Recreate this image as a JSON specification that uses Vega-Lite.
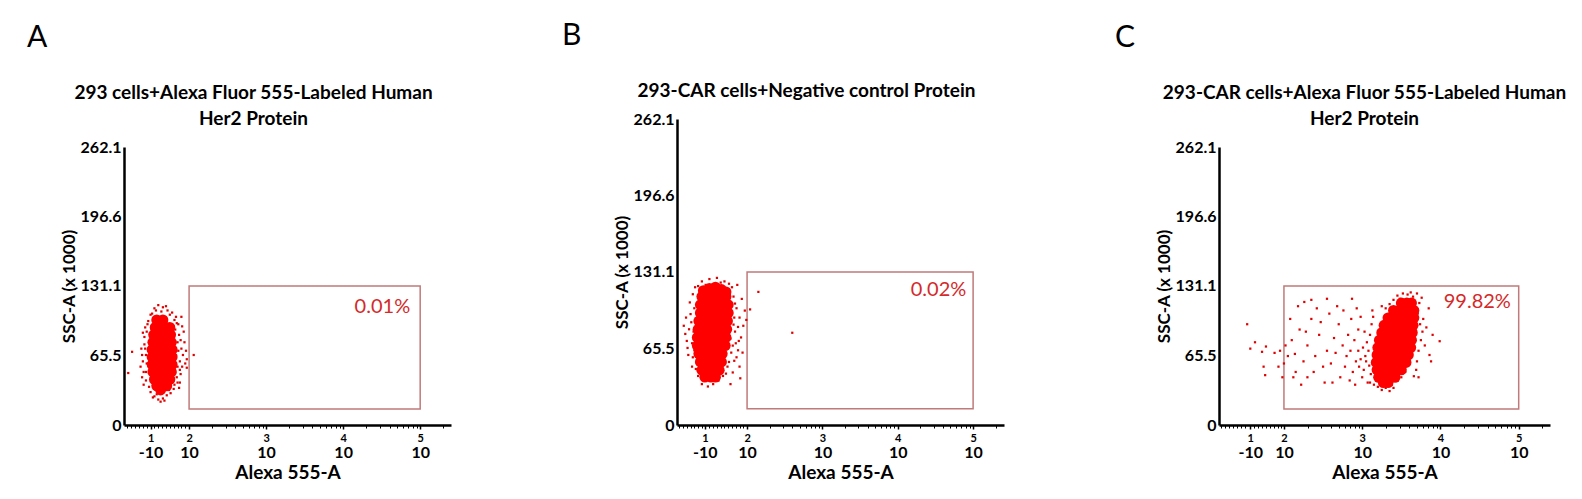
{
 "$schema": "https://vega.github.io/schema/vega-lite/v6.json",
 "background": "white",
 "padding": {"left": 27, "top": 21, "right": 0, "bottom": 0},
 "spacing": 111,
 "config": {
  "view": {"stroke": null},
  "font": "Lato",
  "axis": {"grid": false, "labelFont": "Lato", "titleFont": "Lato"},
  "axisY": {"ticks": false, "labelPadding": 3, "labelFontSize": 16, "labelFontWeight": "bold", "labelColor": "black", "domainColor": "black", "domainWidth": 2.5, "titleFontSize": 17, "titleFontWeight": "bold", "titleColor": "black", "titlePadding": 2}
 },
 "datasets": {
  "gate": [{"p":"A","x1":2,"x2":5,"y1":15,"y2":131.1},{"p":"B","x1":2,"x2":5,"y1":14,"y2":131},{"p":"C","x1":2,"x2":5,"y1":15,"y2":131.1}],
  "pct": [{"p":"A","x":4.87,"y":111,"label":"0.01%"},{"p":"B","x":4.91,"y":116,"label":"0.02%"},{"p":"C","x":4.90,"y":116,"label":"99.82%"}],
  "A_core": [
   {"x":1.58,"y":99},{"x":1.66,"y":99},
   {"x":1.56,"y":92},{"x":1.63,"y":92},{"x":1.70,"y":92},{"x":1.75,"y":92},
   {"x":1.54,"y":85},{"x":1.61,"y":85},{"x":1.68,"y":85},{"x":1.76,"y":85},
   {"x":1.53,"y":78},{"x":1.60,"y":78},{"x":1.67,"y":78},{"x":1.74,"y":78},{"x":1.77,"y":78},
   {"x":1.52,"y":71},{"x":1.59,"y":71},{"x":1.66,"y":71},{"x":1.73,"y":71},{"x":1.78,"y":71},
   {"x":1.52,"y":64},{"x":1.59,"y":64},{"x":1.66,"y":64},{"x":1.73,"y":64},{"x":1.78,"y":64},
   {"x":1.52,"y":57},{"x":1.59,"y":57},{"x":1.66,"y":57},{"x":1.73,"y":57},{"x":1.78,"y":57},
   {"x":1.53,"y":50},{"x":1.60,"y":50},{"x":1.67,"y":50},{"x":1.74,"y":50},{"x":1.77,"y":50},
   {"x":1.55,"y":43},{"x":1.62,"y":43},{"x":1.69,"y":43},{"x":1.75,"y":43},
   {"x":1.58,"y":37},{"x":1.65,"y":37},{"x":1.71,"y":37},
   {"x":1.63,"y":33}
  ],
  "A_dot": [
   {"x":1.40,"y":60},{"x":1.38,"y":72},{"x":1.41,"y":50},{"x":1.42,"y":83},{"x":1.39,"y":45},{"x":1.43,"y":92},{"x":1.41,"y":38},{"x":1.44,"y":66},{"x":1.37,"y":55},{"x":1.42,"y":76},
   {"x":1.88,"y":60},{"x":1.90,"y":72},{"x":1.87,"y":85},{"x":1.92,"y":66},{"x":1.89,"y":48},{"x":1.94,"y":78},{"x":1.86,"y":95},{"x":1.91,"y":55},{"x":1.96,"y":70},{"x":1.88,"y":40},{"x":1.93,"y":88},{"x":1.97,"y":62},{"x":1.90,"y":102},{"x":1.87,"y":35},
   {"x":1.55,"y":110},{"x":1.60,"y":113},{"x":1.66,"y":111},{"x":1.72,"y":108},{"x":1.78,"y":106},{"x":1.50,"y":104},{"x":1.64,"y":107},{"x":1.83,"y":102},{"x":1.70,"y":112},{"x":1.47,"y":98},
   {"x":1.55,"y":27},{"x":1.60,"y":24},{"x":1.66,"y":25},{"x":1.71,"y":28},{"x":1.76,"y":30},{"x":1.50,"y":31},{"x":1.63,"y":22},{"x":1.80,"y":34},{"x":1.48,"y":36},{"x":1.68,"y":23},
   {"x":1.82,"y":90},{"x":1.84,"y":45},{"x":1.85,"y":78},{"x":1.83,"y":66},{"x":1.81,"y":38},
   {"x":1.45,"y":88},{"x":1.44,"y":42},{"x":1.46,"y":95},{"x":1.85,"y":55},{"x":1.86,"y":70},{"x":1.84,"y":96},{"x":1.89,"y":80},{"x":1.52,"y":105},{"x":1.75,"y":104},{"x":1.58,"y":29},{"x":1.74,"y":33},{"x":1.45,"y":58},{"x":1.43,"y":72},
   {"x":1.39,"y":66},{"x":1.40,"y":87},{"x":1.91,"y":93},{"x":1.95,"y":58},{"x":1.88,"y":52},{"x":1.57,"y":108},{"x":1.81,"y":99},{"x":1.53,"y":26},{"x":1.85,"y":40},{"x":1.44,"y":50},
   {"x":1.21,"y":49},{"x":1.26,"y":69},{"x":2.06,"y":66},{"x":1.97,"y":54}
  ],
  "B_core": [
   {"x":1.42,"y":115},{"x":1.50,"y":117},{"x":1.58,"y":118},{"x":1.66,"y":116},{"x":1.72,"y":114},
   {"x":1.40,"y":110},{"x":1.48,"y":110},{"x":1.56,"y":110},{"x":1.64,"y":110},{"x":1.72,"y":110},
   {"x":1.38,"y":103},{"x":1.46,"y":103},{"x":1.54,"y":103},{"x":1.62,"y":103},{"x":1.70,"y":103},{"x":1.75,"y":103},
   {"x":1.38,"y":96},{"x":1.46,"y":96},{"x":1.54,"y":96},{"x":1.62,"y":96},{"x":1.70,"y":96},{"x":1.75,"y":96},
   {"x":1.36,"y":89},{"x":1.44,"y":89},{"x":1.52,"y":89},{"x":1.60,"y":89},{"x":1.68,"y":89},{"x":1.74,"y":89},
   {"x":1.35,"y":82},{"x":1.43,"y":82},{"x":1.51,"y":82},{"x":1.59,"y":82},{"x":1.67,"y":82},{"x":1.73,"y":82},
   {"x":1.34,"y":75},{"x":1.42,"y":75},{"x":1.50,"y":75},{"x":1.58,"y":75},{"x":1.66,"y":75},{"x":1.72,"y":75},
   {"x":1.34,"y":68},{"x":1.42,"y":68},{"x":1.50,"y":68},{"x":1.58,"y":68},{"x":1.66,"y":68},{"x":1.71,"y":68},
   {"x":1.36,"y":61},{"x":1.44,"y":61},{"x":1.52,"y":61},{"x":1.60,"y":61},{"x":1.67,"y":61},
   {"x":1.38,"y":54},{"x":1.46,"y":54},{"x":1.54,"y":54},{"x":1.62,"y":54},{"x":1.66,"y":54},
   {"x":1.40,"y":47},{"x":1.48,"y":47},{"x":1.56,"y":47},{"x":1.63,"y":47},
   {"x":1.44,"y":41},{"x":1.52,"y":41},{"x":1.58,"y":41}
  ],
  "B_dot": [
   {"x":1.20,"y":72},{"x":1.16,"y":85},{"x":1.22,"y":60},{"x":1.25,"y":95},{"x":1.18,"y":78},{"x":1.24,"y":105},{"x":1.27,"y":50},{"x":1.21,"y":66},{"x":1.28,"y":112},{"x":1.26,"y":88},
   {"x":1.29,"y":80},{"x":1.27,"y":70},{"x":1.30,"y":100},{"x":1.28,"y":58},{"x":1.31,"y":118},
   {"x":1.82,"y":110},{"x":1.86,"y":100},{"x":1.90,"y":92},{"x":1.84,"y":80},{"x":1.92,"y":75},{"x":1.88,"y":64},{"x":1.95,"y":85},{"x":1.83,"y":55},{"x":1.90,"y":50},{"x":1.97,"y":98},{"x":1.80,"y":118},{"x":1.87,"y":120},{"x":1.93,"y":108},{"x":1.85,"y":70},{"x":1.99,"y":90},{"x":1.81,"y":45},{"x":1.91,"y":40},{"x":1.78,"y":35},
   {"x":1.80,"y":96},{"x":1.82,"y":86},{"x":1.79,"y":62},{"x":1.84,"y":104},{"x":1.78,"y":74},{"x":1.76,"y":54},{"x":1.81,"y":68},{"x":1.88,"y":84},{"x":1.72,"y":44},
   {"x":1.86,"y":58},{"x":1.89,"y":72},{"x":1.94,"y":62},{"x":1.83,"y":92},{"x":1.23,"y":82},{"x":1.19,"y":92},{"x":1.30,"y":64},{"x":1.77,"y":112},
   {"x":1.40,"y":123},{"x":1.50,"y":125},{"x":1.60,"y":126},{"x":1.70,"y":123},{"x":1.35,"y":119},{"x":1.76,"y":121},{"x":1.45,"y":120},{"x":1.65,"y":122},
   {"x":1.40,"y":35},{"x":1.48,"y":33},{"x":1.55,"y":35},{"x":1.62,"y":38},{"x":1.68,"y":42},{"x":1.35,"y":42},{"x":1.32,"y":48},{"x":1.74,"y":50},
   {"x":2.15,"y":114},{"x":2.60,"y":79},{"x":2.04,"y":99}
  ],
  "C_core": [
   {"x":3.50,"y":115},{"x":3.57,"y":115},{"x":3.63,"y":115},
   {"x":3.40,"y":108},{"x":3.47,"y":108},{"x":3.54,"y":108},{"x":3.61,"y":108},{"x":3.66,"y":108},
   {"x":3.33,"y":101},{"x":3.40,"y":101},{"x":3.47,"y":101},{"x":3.54,"y":101},{"x":3.61,"y":101},{"x":3.66,"y":101},
   {"x":3.28,"y":94},{"x":3.35,"y":94},{"x":3.42,"y":94},{"x":3.49,"y":94},{"x":3.56,"y":94},{"x":3.63,"y":94},{"x":3.65,"y":94},
   {"x":3.25,"y":87},{"x":3.32,"y":87},{"x":3.39,"y":87},{"x":3.46,"y":87},{"x":3.53,"y":87},{"x":3.60,"y":87},{"x":3.64,"y":87},
   {"x":3.22,"y":80},{"x":3.29,"y":80},{"x":3.36,"y":80},{"x":3.43,"y":80},{"x":3.50,"y":80},{"x":3.57,"y":80},{"x":3.63,"y":80},
   {"x":3.20,"y":73},{"x":3.27,"y":73},{"x":3.34,"y":73},{"x":3.41,"y":73},{"x":3.48,"y":73},{"x":3.55,"y":73},{"x":3.62,"y":73},
   {"x":3.19,"y":66},{"x":3.26,"y":66},{"x":3.33,"y":66},{"x":3.40,"y":66},{"x":3.47,"y":66},{"x":3.54,"y":66},{"x":3.59,"y":66},
   {"x":3.18,"y":59},{"x":3.25,"y":59},{"x":3.32,"y":59},{"x":3.39,"y":59},{"x":3.46,"y":59},{"x":3.53,"y":59},{"x":3.56,"y":59},
   {"x":3.19,"y":52},{"x":3.26,"y":52},{"x":3.33,"y":52},{"x":3.40,"y":52},{"x":3.47,"y":52},{"x":3.50,"y":52},
   {"x":3.21,"y":45},{"x":3.28,"y":45},{"x":3.35,"y":45},{"x":3.42,"y":45},
   {"x":3.27,"y":40},{"x":3.33,"y":40}
  ],
  "C_dot": [
   {"x":3.05,"y":60},{"x":3.08,"y":70},{"x":3.02,"y":52},{"x":3.10,"y":85},{"x":3.12,"y":95},{"x":3.00,"y":45},{"x":3.06,"y":78},{"x":3.11,"y":48},{"x":3.04,"y":65},{"x":3.14,"y":102},{"x":3.09,"y":56},{"x":3.01,"y":73},{"x":2.98,"y":62},{"x":3.07,"y":40},{"x":3.13,"y":108},{"x":2.96,"y":55},{"x":3.03,"y":88},{"x":2.95,"y":70},
   {"x":3.70,"y":60},{"x":3.72,"y":70},{"x":3.75,"y":80},{"x":3.74,"y":95},{"x":3.71,"y":105},{"x":3.77,"y":88},{"x":3.69,"y":52},{"x":3.80,"y":75},{"x":3.73,"y":115},{"x":3.78,"y":100},{"x":3.85,"y":110},{"x":3.86,"y":66},{"x":3.72,"y":45},{"x":3.82,"y":92},{"x":3.88,"y":60},{"x":3.76,"y":120},{"x":3.66,"y":46},{"x":3.90,"y":85},
   {"x":3.40,"y":118},{"x":3.45,"y":122},{"x":3.52,"y":124},{"x":3.58,"y":123},{"x":3.65,"y":121},{"x":3.35,"y":114},{"x":3.30,"y":110},{"x":3.70,"y":124},{"x":3.62,"y":125},{"x":3.48,"y":119},{"x":3.25,"y":112},
   {"x":3.20,"y":36},{"x":3.25,"y":33},{"x":3.30,"y":35},{"x":3.38,"y":38},{"x":3.45,"y":42},{"x":3.15,"y":38},{"x":3.10,"y":40},{"x":3.35,"y":32},{"x":3.50,"y":45},{"x":3.55,"y":50},{"x":3.40,"y":35},
   {"x":2.95,"y":90},{"x":2.90,"y":80},{"x":2.85,"y":70},{"x":2.92,"y":60},{"x":2.88,"y":50},{"x":2.80,"y":65},{"x":2.75,"y":75},{"x":2.82,"y":85},{"x":2.78,"y":55},{"x":2.70,"y":95},{"x":2.86,"y":100},{"x":2.72,"y":45},{"x":2.66,"y":68},{"x":2.93,"y":110},{"x":2.60,"y":58},{"x":2.64,"y":82},{"x":2.84,"y":42},{"x":2.91,"y":38},{"x":2.98,"y":102},{"x":2.76,"y":108},{"x":2.62,"y":40},{"x":2.68,"y":112},
   {"x":2.55,"y":70},{"x":2.45,"y":85},{"x":2.50,"y":55},{"x":2.40,"y":65},{"x":2.35,"y":100},{"x":2.30,"y":75},{"x":2.25,"y":60},{"x":2.20,"y":90},{"x":2.15,"y":50},{"x":2.10,"y":80},{"x":2.05,"y":65},{"x":2.00,"y":58},{"x":1.95,"y":70},{"x":2.30,"y":45},{"x":2.42,"y":110},{"x":2.18,"y":112},{"x":2.08,"y":100},{"x":2.52,"y":40},{"x":2.38,"y":50},{"x":2.12,"y":45},{"x":2.28,"y":88},{"x":2.02,"y":75},{"x":1.98,"y":45},{"x":2.47,"y":97},{"x":2.58,"y":105},{"x":2.35,"y":118},{"x":2.22,"y":38},{"x":2.14,"y":67},{"x":1.93,"y":55},
   {"x":2.26,"y":116},{"x":2.55,"y":119},{"x":2.87,"y":119},{"x":3.99,"y":79},
   {"x":1.53,"y":95},{"x":1.63,"y":78},{"x":1.57,"y":72},{"x":1.74,"y":55},{"x":1.76,"y":47},{"x":1.77,"y":74},{"x":1.72,"y":69},{"x":1.88,"y":68}
  ]
 },
 "hconcat": [
  {
   "width": 327, "height": 306,
   "title": {"text": "A", "anchor": "start", "frame": "group", "dx": -97, "offset": 30, "fontSize": 30, "fontWeight": "normal", "font": "Lato", "color": "black"},
   "resolve": {"axis": {"x": "independent"}},
   "layer": [
    {"data": {"name": "gate"}, "transform": [{"filter": "datum.p === 'A'"}],
     "mark": {"type": "rect", "filled": false, "stroke": "#c07a7a", "strokeWidth": 1.5},
     "encoding": {
      "x": {"field": "x1", "type": "quantitative", "scale": {"domain": [1.155, 5.4], "nice": false, "zero": false},
            "axis": {"orient": "bottom", "values": [1.5, 2, 3, 4, 5], "labelExpr": "datum.value < 1.9 ? '-10' : '10'", "labelFontSize": 16, "labelFontWeight": "bold", "labelColor": "black", "labelDx": -3, "labelPadding": 15, "tickSize": 4, "tickColor": "black", "tickWidth": 1.5, "domainColor": "black", "domainWidth": 2.5, "labelFlush": false, "labelOverlap": false, "title": "Alexa 555-A", "titleFontSize": 19, "titleFontWeight": "bold", "titleColor": "black", "titlePadding": 3}},
      "x2": {"field": "x2"},
      "y": {"field": "y1", "type": "quantitative", "scale": {"domain": [0, 262.1], "nice": false, "zero": false, "range": [306, 28]}, "axis": {"values": [0, 65.5, 131.1, 196.6, 262.1], "format": ".1~f", "title": "SSC-A (x 1000)"}},
      "y2": {"field": "y2"}
     }},
    {"data": {"name": "A_dot"},
     "mark": {"type": "square", "size": 5, "color": "#e00000", "opacity": 1},
     "encoding": {
      "x": {"field": "x", "type": "quantitative", "scale": {"domain": [1.155, 5.4], "nice": false, "zero": false},
            "axis": {"orient": "bottom", "values": [1.2,1.25,1.3,1.35,1.4,1.45,1.55,1.6,1.65,1.7,1.75,1.8,1.85,1.9,1.95,2.301,2.477,2.602,2.699,2.778,2.845,2.903,2.954,3.301,3.477,3.602,3.699,3.778,3.845,3.903,3.954,4.301,4.477,4.602,4.699,4.778,4.845,4.903,4.954,5.301], "labels": false, "domain": false, "tickSize": 3, "tickColor": "black", "tickWidth": 1, "title": null}},
      "y": {"field": "y", "type": "quantitative", "scale": {"domain": [0, 262.1], "nice": false, "zero": false, "range": [306, 28]}, "axis": {"values": [0, 65.5, 131.1, 196.6, 262.1], "format": ".1~f", "title": "SSC-A (x 1000)"}}
     }},
    {"data": {"name": "A_core"},
     "mark": {"type": "circle", "size": 120, "color": "#ff0000", "opacity": 1},
     "encoding": {
      "x": {"field": "x", "type": "quantitative", "scale": {"domain": [1.155, 5.4], "nice": false, "zero": false},
            "axis": {"orient": "bottom", "values": [1.5, 2, 3, 4, 5], "labelExpr": "datum.value < 1.9 ? '1' : format(datum.value, '.0f')", "labelFontSize": 11, "labelFontWeight": "bold", "labelColor": "black", "labelDx": 10, "labelPadding": 7, "ticks": false, "domain": false, "labelFlush": false, "labelOverlap": false, "title": null}},
      "y": {"field": "y", "type": "quantitative", "scale": {"domain": [0, 262.1], "nice": false, "zero": false, "range": [306, 28]}, "axis": {"values": [0, 65.5, 131.1, 196.6, 262.1], "format": ".1~f", "title": "SSC-A (x 1000)"}}
     }},
    {"data": {"name": "pct"}, "transform": [{"filter": "datum.p === 'A'"}],
     "mark": {"type": "text", "align": "right", "baseline": "middle", "font": "Lato", "fontSize": 20, "color": "#d42a2a"},
     "encoding": {
      "x": {"field": "x", "type": "quantitative", "scale": {"domain": [1.155, 5.4], "nice": false, "zero": false},
            "axis": {"orient": "top", "offset": -28, "labels": false, "ticks": false, "domain": false, "title": ["293 cells+Alexa Fluor 555-Labeled Human", "Her2 Protein"], "titleFontSize": 19, "titleFontWeight": "bold", "titleColor": "black", "titlePadding": 19, "titleBaseline": "bottom", "titleLineHeight": 26, "titleX": 129}},
      "y": {"field": "y", "type": "quantitative", "scale": {"domain": [0, 262.1], "nice": false, "zero": false, "range": [306, 28]}, "axis": {"values": [0, 65.5, 131.1, 196.6, 262.1], "format": ".1~f", "title": "SSC-A (x 1000)"}},
      "text": {"field": "label"}
     }}
   ]
  },
  {
   "width": 327, "height": 306,
   "title": {"text": "B", "anchor": "start", "frame": "group", "dx": -115, "offset": 30, "fontSize": 30, "fontWeight": "normal", "font": "Lato", "color": "black"},
   "resolve": {"axis": {"x": "independent"}},
   "layer": [
    {"data": {"name": "gate"}, "transform": [{"filter": "datum.p === 'B'"}],
     "mark": {"type": "rect", "filled": false, "stroke": "#c07a7a", "strokeWidth": 1.5},
     "encoding": {
      "x": {"field": "x1", "type": "quantitative", "scale": {"domain": [1.07, 5.41], "nice": false, "zero": false},
            "axis": {"orient": "bottom", "values": [1.44, 2, 3, 4, 5], "labelExpr": "datum.value < 1.9 ? '-10' : '10'", "labelFontSize": 16, "labelFontWeight": "bold", "labelColor": "black", "labelDx": -3, "labelPadding": 15, "tickSize": 4, "tickColor": "black", "tickWidth": 1.5, "domainColor": "black", "domainWidth": 2.5, "labelFlush": false, "labelOverlap": false, "title": "Alexa 555-A", "titleFontSize": 19, "titleFontWeight": "bold", "titleColor": "black", "titlePadding": 3}},
      "x2": {"field": "x2"},
      "y": {"field": "y1", "type": "quantitative", "scale": {"domain": [0, 262.1], "nice": false, "zero": false}, "axis": {"values": [0, 65.5, 131.1, 196.6, 262.1], "format": ".1~f", "title": "SSC-A (x 1000)"}},
      "y2": {"field": "y2"}
     }},
    {"data": {"name": "B_dot"},
     "mark": {"type": "square", "size": 5, "color": "#e00000", "opacity": 1},
     "encoding": {
      "x": {"field": "x", "type": "quantitative", "scale": {"domain": [1.07, 5.41], "nice": false, "zero": false},
            "axis": {"orient": "bottom", "values": [1.1,1.15,1.2,1.25,1.3,1.35,1.4,1.5,1.55,1.6,1.65,1.7,1.75,1.8,1.85,1.9,1.95,2.301,2.477,2.602,2.699,2.778,2.845,2.903,2.954,3.301,3.477,3.602,3.699,3.778,3.845,3.903,3.954,4.301,4.477,4.602,4.699,4.778,4.845,4.903,4.954,5.301], "labels": false, "domain": false, "tickSize": 3, "tickColor": "black", "tickWidth": 1, "title": null}},
      "y": {"field": "y", "type": "quantitative", "scale": {"domain": [0, 262.1], "nice": false, "zero": false}, "axis": {"values": [0, 65.5, 131.1, 196.6, 262.1], "format": ".1~f", "title": "SSC-A (x 1000)"}}
     }},
    {"data": {"name": "B_core"},
     "mark": {"type": "circle", "size": 120, "color": "#ff0000", "opacity": 1},
     "encoding": {
      "x": {"field": "x", "type": "quantitative", "scale": {"domain": [1.07, 5.41], "nice": false, "zero": false},
            "axis": {"orient": "bottom", "values": [1.44, 2, 3, 4, 5], "labelExpr": "datum.value < 1.9 ? '1' : format(datum.value, '.0f')", "labelFontSize": 11, "labelFontWeight": "bold", "labelColor": "black", "labelDx": 10, "labelPadding": 7, "ticks": false, "domain": false, "labelFlush": false, "labelOverlap": false, "title": null}},
      "y": {"field": "y", "type": "quantitative", "scale": {"domain": [0, 262.1], "nice": false, "zero": false}, "axis": {"values": [0, 65.5, 131.1, 196.6, 262.1], "format": ".1~f", "title": "SSC-A (x 1000)"}}
     }},
    {"data": {"name": "pct"}, "transform": [{"filter": "datum.p === 'B'"}],
     "mark": {"type": "text", "align": "right", "baseline": "middle", "font": "Lato", "fontSize": 20, "color": "#d42a2a"},
     "encoding": {
      "x": {"field": "x", "type": "quantitative", "scale": {"domain": [1.07, 5.41], "nice": false, "zero": false},
            "axis": {"orient": "top", "labels": false, "ticks": false, "domain": false, "title": "293-CAR cells+Negative control Protein", "titleFontSize": 19, "titleFontWeight": "bold", "titleColor": "black", "titlePadding": 19, "titleBaseline": "bottom", "titleLineHeight": 26, "titleX": 129}},
      "y": {"field": "y", "type": "quantitative", "scale": {"domain": [0, 262.1], "nice": false, "zero": false}, "axis": {"values": [0, 65.5, 131.1, 196.6, 262.1], "format": ".1~f", "title": "SSC-A (x 1000)"}},
      "text": {"field": "label"}
     }}
   ]
  },
  {
   "width": 331, "height": 306,
   "title": {"text": "C", "anchor": "start", "frame": "group", "dx": -104, "offset": 30, "fontSize": 30, "fontWeight": "normal", "font": "Lato", "color": "black"},
   "resolve": {"axis": {"x": "independent"}},
   "layer": [
    {"data": {"name": "gate"}, "transform": [{"filter": "datum.p === 'C'"}],
     "mark": {"type": "rect", "filled": false, "stroke": "#c07a7a", "strokeWidth": 1.5},
     "encoding": {
      "x": {"field": "x1", "type": "quantitative", "scale": {"domain": [1.17, 5.4], "nice": false, "zero": false},
            "axis": {"orient": "bottom", "values": [1.57, 2, 3, 4, 5], "labelExpr": "datum.value < 1.9 ? '-10' : '10'", "labelFontSize": 16, "labelFontWeight": "bold", "labelColor": "black", "labelDx": -3, "labelPadding": 15, "tickSize": 4, "tickColor": "black", "tickWidth": 1.5, "domainColor": "black", "domainWidth": 2.5, "labelFlush": false, "labelOverlap": false, "title": "Alexa 555-A", "titleFontSize": 19, "titleFontWeight": "bold", "titleColor": "black", "titlePadding": 3}},
      "x2": {"field": "x2"},
      "y": {"field": "y1", "type": "quantitative", "scale": {"domain": [0, 262.1], "nice": false, "zero": false, "range": [306, 28]}, "axis": {"values": [0, 65.5, 131.1, 196.6, 262.1], "format": ".1~f", "title": "SSC-A (x 1000)"}},
      "y2": {"field": "y2"}
     }},
    {"data": {"name": "C_dot"},
     "mark": {"type": "square", "size": 5, "color": "#e00000", "opacity": 1},
     "encoding": {
      "x": {"field": "x", "type": "quantitative", "scale": {"domain": [1.17, 5.4], "nice": false, "zero": false},
            "axis": {"orient": "bottom", "values": [1.2,1.25,1.3,1.35,1.4,1.45,1.5,1.62,1.67,1.72,1.77,1.82,1.87,1.92,1.96,2.301,2.477,2.602,2.699,2.778,2.845,2.903,2.954,3.301,3.477,3.602,3.699,3.778,3.845,3.903,3.954,4.301,4.477,4.602,4.699,4.778,4.845,4.903,4.954,5.301], "labels": false, "domain": false, "tickSize": 3, "tickColor": "black", "tickWidth": 1, "title": null}},
      "y": {"field": "y", "type": "quantitative", "scale": {"domain": [0, 262.1], "nice": false, "zero": false, "range": [306, 28]}, "axis": {"values": [0, 65.5, 131.1, 196.6, 262.1], "format": ".1~f", "title": "SSC-A (x 1000)"}}
     }},
    {"data": {"name": "C_core"},
     "mark": {"type": "circle", "size": 120, "color": "#ff0000", "opacity": 1},
     "encoding": {
      "x": {"field": "x", "type": "quantitative", "scale": {"domain": [1.17, 5.4], "nice": false, "zero": false},
            "axis": {"orient": "bottom", "values": [1.57, 2, 3, 4, 5], "labelExpr": "datum.value < 1.9 ? '1' : format(datum.value, '.0f')", "labelFontSize": 11, "labelFontWeight": "bold", "labelColor": "black", "labelDx": 10, "labelPadding": 7, "ticks": false, "domain": false, "labelFlush": false, "labelOverlap": false, "title": null}},
      "y": {"field": "y", "type": "quantitative", "scale": {"domain": [0, 262.1], "nice": false, "zero": false, "range": [306, 28]}, "axis": {"values": [0, 65.5, 131.1, 196.6, 262.1], "format": ".1~f", "title": "SSC-A (x 1000)"}}
     }},
    {"data": {"name": "pct"}, "transform": [{"filter": "datum.p === 'C'"}],
     "mark": {"type": "text", "align": "right", "baseline": "middle", "font": "Lato", "fontSize": 20, "color": "#d42a2a"},
     "encoding": {
      "x": {"field": "x", "type": "quantitative", "scale": {"domain": [1.17, 5.4], "nice": false, "zero": false},
            "axis": {"orient": "top", "offset": -28, "labels": false, "ticks": false, "domain": false, "title": ["293-CAR cells+Alexa Fluor 555-Labeled Human", "Her2 Protein"], "titleFontSize": 19, "titleFontWeight": "bold", "titleColor": "black", "titlePadding": 19, "titleBaseline": "bottom", "titleLineHeight": 26, "titleX": 145}},
      "y": {"field": "y", "type": "quantitative", "scale": {"domain": [0, 262.1], "nice": false, "zero": false, "range": [306, 28]}, "axis": {"values": [0, 65.5, 131.1, 196.6, 262.1], "format": ".1~f", "title": "SSC-A (x 1000)"}},
      "text": {"field": "label"}
     }}
   ]
  }
 ]
}
